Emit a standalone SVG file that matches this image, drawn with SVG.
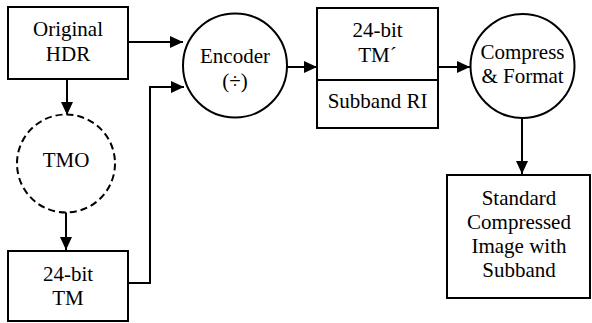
<svg xmlns="http://www.w3.org/2000/svg" width="592" height="323" viewBox="0 0 592 323">
<style>
.box{fill:#fff;stroke:#000;stroke-width:2}
.dash{fill:#fff;stroke:#000;stroke-width:2;stroke-dasharray:7 4}
text{font-family:'Liberation Serif','Times New Roman',serif;font-size:21px;fill:#000;text-anchor:middle}
.c{fill:none;stroke:#000;stroke-width:2}
</style>
<defs>
<marker id="ah" markerUnits="userSpaceOnUse" markerWidth="14" markerHeight="12" refX="13" refY="6" orient="auto">
<path d="M0,0 L13,6 L0,12 z" fill="#000"/>
</marker>
</defs>
<g id="connectors">
<path class="c" d="M128,42 H183" marker-end="url(#ah)"/>
<path class="c" d="M67,79 V115" marker-end="url(#ah)"/>
<path class="c" d="M66,212 V250" marker-end="url(#ah)"/>
<path class="c" d="M128,283 H150 V87 H184" marker-end="url(#ah)"/>
<path class="c" d="M287,67 H317" marker-end="url(#ah)"/>
<path class="c" d="M438,67 H470" marker-end="url(#ah)"/>
<path class="c" d="M522,118 V174" marker-end="url(#ah)"/>
</g>
<g id="original-hdr">
<rect class="box" x="8" y="7" width="120" height="72"/>
<text x="68" y="36">Original</text>
<text x="68" y="61">HDR</text>
</g>
<g id="tmo">
<circle class="dash" cx="66" cy="163.5" r="49"/>
<text x="66" y="167">TMO</text>
</g>
<g id="tm">
<rect class="box" x="8" y="251" width="120" height="70"/>
<text x="68" y="281">24-bit</text>
<text x="68" y="305">TM</text>
</g>
<g id="encoder">
<circle class="box" cx="235" cy="65.5" r="52"/>
<text x="235" y="63">Encoder</text>
<text x="235" y="88">(÷)</text>
</g>
<g id="tm-prime">
<rect class="box" x="317" y="8" width="121" height="120"/>
<line class="c" x1="317" y1="80" x2="438" y2="80"/>
<text x="377.5" y="37">24-bit</text>
<text x="377.5" y="62">TM´</text>
<text x="377.5" y="108">Subband RI</text>
</g>
<g id="compress">
<circle class="box" cx="522.5" cy="66" r="52"/>
<text x="522.5" y="59">Compress</text>
<text x="522.5" y="83">&amp; Format</text>
</g>
<g id="standard">
<rect class="box" x="447" y="175" width="143" height="123"/>
<text x="519" y="205">Standard</text>
<text x="519" y="229">Compressed</text>
<text x="519" y="253">Image with</text>
<text x="519" y="277">Subband</text>
</g>
</svg>
